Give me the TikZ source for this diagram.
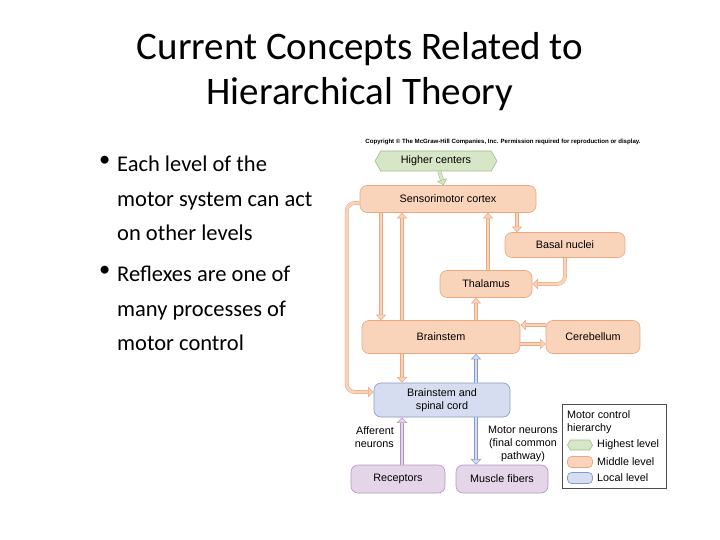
\documentclass[tikz,border=0pt]{standalone}
\usepackage{fontspec}
\setmainfont{Carlito}
\newfontfamily\diagfont{Liberation Sans}
\usetikzlibrary{arrows.meta,shapes.symbols}

\definecolor{midfill}{RGB}{250,212,186}
\definecolor{midedge}{RGB}{234,168,128}
\definecolor{locfill}{RGB}{214,221,240}
\definecolor{locedge}{RGB}{138,152,198}
\definecolor{recfill}{RGB}{228,214,232}
\definecolor{recedge}{RGB}{178,150,190}
\definecolor{topfill}{RGB}{214,230,198}
\definecolor{topedge}{RGB}{158,188,132}

\begin{document}
\begin{tikzpicture}[
  x=1pt,
  y=-1pt,
  every node/.style={font=\diagfont\fontsize{10.8}{13}\selectfont},
  level/.style={
    draw=#1edge,
    fill=#1fill,
    rounded corners=7pt,
    line width=0.6pt,
    align=center,
    inner sep=0pt
  },
  topbox/.style={
    draw=topedge,
    fill=topfill,
    signal,
    signal to=west and east,
    signal pointer angle=120,
    line width=0.6pt,
    inner sep=0pt
  },
  flow/.style={
    draw=#1edge,
    double=#1fill,
    double distance=2.8pt,
    line width=0.5pt,
    -{Triangle[length=5.5pt,width=10pt,fill=#1fill,line width=0.5pt]}
  },
  bullettext/.style={font=\fontsize{22.5}{34.5}\selectfont, anchor=north west, align=left, inner sep=0pt},
  key/.style={anchor=west, inner sep=0pt}
]
\useasboundingbox (0,0) rectangle (720,540);

% slide text
\node[font=\fontsize{39}{45}\selectfont, align=center] (title) at (360,72)
  {Current Concepts Related to\\Hierarchical Theory};
\node[bullettext] (dot1) at (99,156) {\textbullet};
\node[bullettext] (point1) at (117,156) {Each level of the\\motor system can act\\on other levels};
\node[bullettext] (dot2) at (99,266) {\textbullet};
\node[bullettext] (point2) at (117,266) {Reflexes are one of\\many processes of\\motor control};

% figure
\node[font=\diagfont\fontsize{6.1}{7}\bfseries\selectfont] (copyright) at (503,142)
  {Copyright \textcopyright{} The McGraw-Hill Companies, Inc. Permission required for reproduction or display.};

\node[topbox, minimum width=122, minimum height=20] (higher) at (436,161) {Higher centers};
\node[level=mid, minimum width=176, minimum height=27] (cortex) at (448,199) {Sensorimotor cortex};
\node[level=mid, minimum width=120, minimum height=25] (basal) at (565,245) {Basal nuclei};
\node[level=mid, minimum width=92, minimum height=27] (thalamus) at (486,284) {Thalamus};
\node[level=mid, minimum width=158, minimum height=33] (brainstem) at (441,337) {Brainstem};
\node[level=mid, minimum width=94, minimum height=33] (cerebellum) at (593,337) {Cerebellum};
\node[level=loc, minimum width=136, minimum height=34] (spinal) at (442,400) {Brainstem and\\spinal cord};
\node[level=rec, minimum width=94, minimum height=28] (receptors) at (398,479) {Receptors};
\node[level=rec, minimum width=92, minimum height=28] (muscle) at (502,479) {Muscle fibers};

\node[align=right, anchor=east, inner sep=0pt] (afferent) at (394,437) {Afferent\\neurons};
\node[align=center, inner sep=0pt] (motor) at (523,444) {Motor neurons\\(final common\\pathway)};

% columns and rows for the straight connectors
\coordinate (colA) at (381,0);
\coordinate (colB) at (402,0);
\coordinate (colC) at (476,0);
\coordinate (colD) at (488,0);
\coordinate (colE) at (517,0);
\coordinate (rowA) at (0,325);
\coordinate (rowB) at (0,344);

\draw[flow=top] (higher) -- (cortex);
\draw[flow=mid, rounded corners=8pt] ([yshift=-4pt]cortex.west) -- ++(-13,0) |- ([yshift=8pt]spinal.west);
\draw[flow=mid] (cortex.south -| colA) -- (brainstem.north -| colA);
\draw[flow=mid] (brainstem.north -| colB) -- (cortex.south -| colB);
\draw[flow=mid] (thalamus.north -| colD) -- (cortex.south -| colD);
\draw[flow=mid] (cortex.south -| colE) -- (basal.north -| colE);
\draw[flow=mid, rounded corners=8pt] (basal.south) |- (thalamus.east);
\draw[flow=mid] (brainstem.north -| colC) -- (thalamus.south -| colC);
\draw[flow=mid] (cerebellum.west |- rowA) -- (brainstem.east |- rowA);
\draw[flow=mid] (brainstem.east |- rowB) -- (cerebellum.west |- rowB);
\draw[flow=mid] (brainstem.south -| colB) -- (spinal.north -| colB);
\draw[flow=loc] (spinal.north -| colC) -- (brainstem.south -| colC);
\draw[flow=loc] (spinal.south -| colC) -- (muscle.north -| colC);
\draw[flow=rec] (receptors.north -| colB) -- (spinal.south -| colB);

% legend
\node[draw=black!70, line width=0.5pt, minimum width=104, minimum height=84, inner sep=0pt] (legend) at (614,446) {};
\node[anchor=north west, align=left, inner sep=0pt] (legtitle) at (567,410) {Motor control\\hierarchy};
\node[topbox, minimum width=25, minimum height=10] (keytop) at (580,445) {};
\node[level=mid, rounded corners=4pt, minimum width=25, minimum height=11] (keymid) at (580,462) {};
\node[level=loc, rounded corners=4pt, minimum width=25, minimum height=11] (keyloc) at (580,478) {};
\node[key] (labtop) at (597,445) {Highest level};
\node[key] (labmid) at (597,462) {Middle level};
\node[key] (labloc) at (597,478) {Local level};
\end{tikzpicture}
\end{document}
